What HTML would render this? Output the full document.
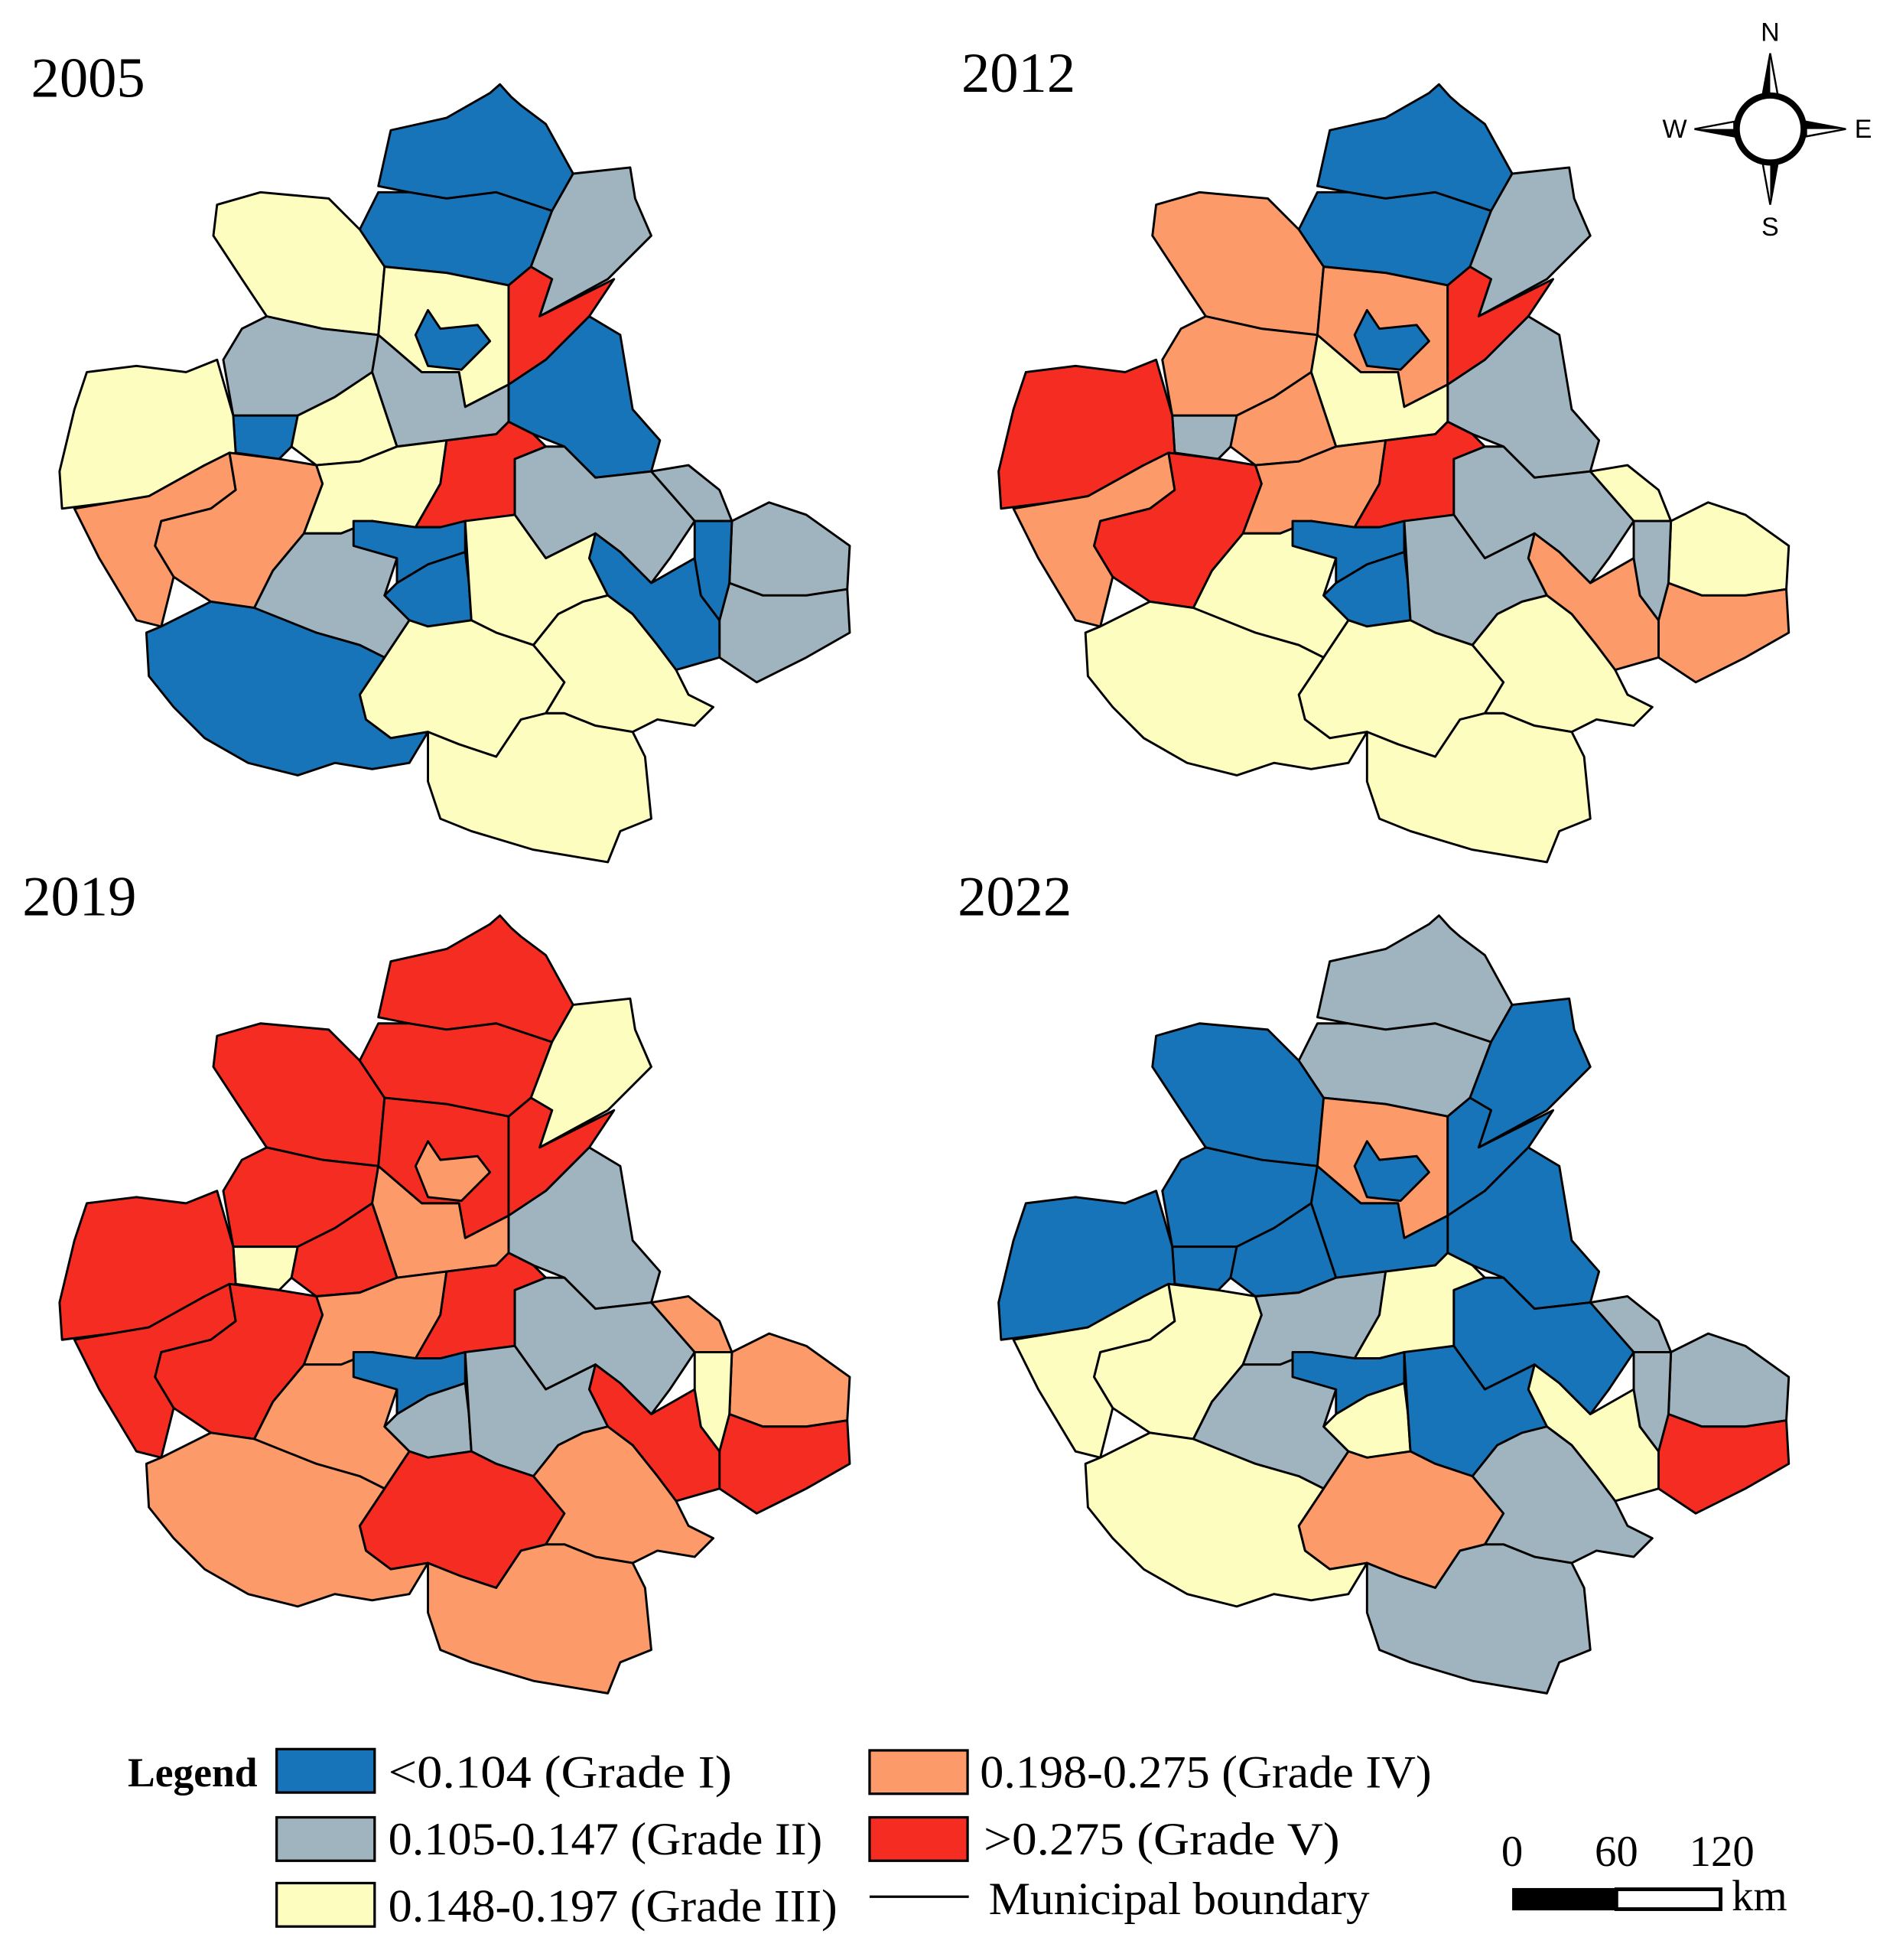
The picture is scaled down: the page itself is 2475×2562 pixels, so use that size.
<!DOCTYPE html>
<html><head><meta charset="utf-8"><style>
html,body{margin:0;padding:0;background:#fff;}
svg{display:block;}
.serif{font-family:"Liberation Serif",serif;}
.sans{font-family:"Liberation Sans",sans-serif;}
</style></head><body>
<svg id="chart" width="2475" height="2562" viewBox="0 0 1526 1580" preserveAspectRatio="none" xmlns="http://www.w3.org/2000/svg">
<g id="maps" class="serif"></g>
<g class="sans">
  <polygon points="1427,43 1433,76 1421,76" fill="#fff" stroke="#000" stroke-width="1.5"/>
  <polygon points="1427,43 1421,76 1427,76" fill="#000"/>
  <polygon points="1427,165 1433,132 1421,132" fill="#fff" stroke="#000" stroke-width="1.5"/>
  <polygon points="1427,165 1433,132 1427,132" fill="#000"/>
  <polygon points="1366,104 1398,98 1398,110" fill="#fff" stroke="#000" stroke-width="1.5"/>
  <polygon points="1366,104 1398,110 1398,104" fill="#000"/>
  <polygon points="1488,104 1456,98 1456,110" fill="#fff" stroke="#000" stroke-width="1.5"/>
  <polygon points="1488,104 1456,98 1456,104" fill="#000"/>
  <circle cx="1427" cy="104" r="27" fill="#fff" stroke="#000" stroke-width="5"/>
  <text x="1427" y="33" font-size="21" text-anchor="middle">N</text>
  <text x="1427" y="190" font-size="21" text-anchor="middle">S</text>
  <text x="1350" y="111" font-size="21" text-anchor="middle">W</text>
  <text x="1502" y="111" font-size="21" text-anchor="middle">E</text>
</g>
<g class="serif">
  <text x="103" y="1440" font-size="33" font-weight="bold">Legend</text>
  <rect x="223" y="1410" width="79" height="35" fill="#1874b8" stroke="#000" stroke-width="2"/>
  <text x="313" y="1441" font-size="37" textLength="277" lengthAdjust="spacingAndGlyphs">&lt;0.104 (Grade I)</text>
  <rect x="223" y="1465" width="79" height="35" fill="#a0b4bf" stroke="#000" stroke-width="2"/>
  <text x="313" y="1495" font-size="37" textLength="350" lengthAdjust="spacingAndGlyphs">0.105-0.147 (Grade II)</text>
  <rect x="223" y="1518" width="79" height="35" fill="#fdfdbf" stroke="#000" stroke-width="2"/>
  <text x="313" y="1549" font-size="37" textLength="362" lengthAdjust="spacingAndGlyphs">0.148-0.197 (Grade III)</text>
  <rect x="701" y="1411" width="79" height="35" fill="#fc9a6a" stroke="#000" stroke-width="2"/>
  <text x="790" y="1441" font-size="37" textLength="364" lengthAdjust="spacingAndGlyphs">0.198-0.275 (Grade IV)</text>
  <rect x="701" y="1465" width="79" height="35" fill="#f52c22" stroke="#000" stroke-width="2"/>
  <text x="793" y="1495" font-size="37" textLength="287" lengthAdjust="spacingAndGlyphs">&gt;0.275 (Grade V)</text>
  <line x1="701" y1="1529" x2="781" y2="1529" stroke="#000" stroke-width="2"/>
  <text x="797" y="1543" font-size="37" textLength="307" lengthAdjust="spacingAndGlyphs">Municipal boundary</text>
</g>
<g class="serif">
  <text x="1219" y="1504" font-size="35" text-anchor="middle">0</text>
  <text x="1303" y="1504" font-size="35" text-anchor="middle">60</text>
  <text x="1388" y="1504" font-size="35" text-anchor="middle">120</text>
  <rect x="1219" y="1522" width="84" height="18" fill="#000"/>
  <rect x="1303" y="1523" width="84" height="16" fill="#fff" stroke="#000" stroke-width="3"/>
  <text x="1396" y="1540" font-size="35">km</text>
</g>
</svg>
<script>
const years = ["2005","2012","2019","2022"];
const gradeColors = ["#1874b8","#a0b4bf","#fdfdbf","#fc9a6a","#f52c22"];
const regionIds = ["n1","n2","ne","nw","cn","city","corr","w","e","c","sw-small","mw","fw","sw1","sw2","cy","cr","ec","e2","fe","fe2","eb","eb2","sc","cs-a","cs-b","ys","sws","se","bsw","s"];
const grades2005 = [1,1,2,3,3,1,5,2,1,2,1,3,3,4,4,3,5,2,2,2,2,1,1,2,1,1,3,3,3,1,3];
const grades2012 = [1,1,2,4,4,1,5,4,2,3,2,4,5,4,5,4,5,2,3,3,4,4,2,3,1,1,2,3,3,3,3];
const grades2019 = [5,5,3,5,5,4,5,5,2,4,3,5,5,5,5,4,5,2,4,4,5,5,3,4,1,2,2,5,4,4,4];
const grades2022 = [2,2,1,1,4,1,1,1,1,1,1,1,1,3,3,2,3,1,2,2,5,3,2,2,1,3,1,4,2,3,2];
const yearGrades = [grades2005, grades2012, grades2019, grades2022];

const shapes = [
 [[305,150],[315,105],[360,95],[395,75],[403,68],[412,78],[420,85],[440,100],[462,140],[445,170],[400,155],[360,160],[330,155]],
 [[305,155],[330,155],[360,160],[400,155],[445,170],[428,215],[410,230],[360,220],[310,215],[290,185]],
 [[445,170],[462,140],[508,135],[512,160],[525,190],[490,225],[435,255],[445,225],[428,215]],
 [[175,165],[210,155],[265,160],[290,185],[310,215],[305,270],[260,265],[215,255],[195,225],[172,190]],
 [[310,215],[360,220],[410,230],[410,310],[375,328],[370,300],[340,300],[305,270]],
 [[335,270],[345,250],[355,265],[385,262],[395,275],[372,298],[345,295]],
 [[410,230],[428,215],[445,225],[435,255],[495,225],[475,255],[440,290],[410,310]],
 [[180,290],[195,265],[215,255],[260,265],[305,270],[300,300],[270,320],[240,335],[188,335]],
 [[440,290],[475,255],[500,270],[510,330],[532,355],[525,380],[480,385],[455,360],[430,350],[410,340],[410,310]],
 [[300,300],[305,270],[340,300],[370,300],[375,328],[410,310],[410,340],[400,350],[360,355],[320,360],[310,330]],
 [[188,335],[240,335],[235,360],[225,370],[190,365]],
 [[240,335],[270,320],[300,300],[310,330],[320,360],[290,372],[255,375],[235,360]],
 [[70,300],[110,295],[150,300],[175,290],[188,335],[190,365],[165,375],[120,400],[90,405],[50,410],[48,380],[60,330]],
 [[60,410],[90,405],[120,400],[165,375],[185,365],[190,395],[170,410],[130,420],[125,440],[140,465],[130,505],[110,500],[95,475],[80,450],[70,430]],
 [[185,365],[225,370],[255,375],[260,390],[245,430],[220,460],[205,490],[170,485],[140,465],[125,440],[130,420],[170,410],[190,395]],
 [[255,375],[290,372],[320,360],[360,355],[355,390],[335,425],[300,420],[275,430],[245,430],[260,390]],
 [[360,355],[400,350],[410,340],[430,350],[440,360],[415,370],[415,415],[380,420],[355,425],[335,425],[355,390]],
 [[415,370],[440,360],[455,360],[480,385],[525,380],[560,420],[540,450],[525,470],[500,445],[480,430],[460,440],[440,450],[415,415]],
 [[525,380],[555,375],[580,395],[590,420],[560,420]],
 [[590,420],[620,405],[650,415],[685,440],[683,475],[650,480],[615,480],[588,470]],
 [[588,470],[615,480],[650,480],[683,475],[685,510],[650,530],[610,550],[580,530],[580,500]],
 [[480,430],[500,445],[525,470],[560,450],[565,480],[580,500],[580,530],[545,540],[530,520],[510,495],[490,480],[475,450]],
 [[560,420],[590,420],[588,470],[580,500],[565,480],[560,450]],
 [[245,430],[275,430],[300,420],[320,450],[310,480],[330,500],[310,530],[290,520],[255,510],[215,495],[205,490],[220,460]],
 [[285,420],[300,420],[335,425],[355,425],[375,420],[375,445],[345,455],[320,470],[320,450],[285,440]],
 [[320,470],[345,455],[375,445],[378,470],[380,500],[345,505],[330,500],[310,480]],
 [[375,420],[415,415],[440,450],[460,440],[480,430],[475,450],[490,480],[470,485],[450,495],[430,520],[400,510],[380,500],[378,470]],
 [[330,500],[345,505],[380,500],[400,510],[430,520],[455,550],[440,575],[420,580],[400,610],[370,600],[345,590],[315,595],[295,580],[290,560],[310,530]],
 [[430,520],[450,495],[470,485],[490,480],[510,495],[530,520],[545,540],[555,560],[575,570],[560,585],[530,580],[510,590],[480,585],[455,575],[440,575],[455,550]],
 [[118,510],[130,505],[170,485],[205,490],[255,510],[290,520],[310,530],[290,560],[295,580],[315,595],[345,590],[330,615],[300,620],[270,615],[240,625],[200,615],[165,595],[140,570],[120,545]],
 [[345,590],[370,600],[400,610],[420,580],[440,575],[455,575],[480,585],[510,590],[520,610],[525,660],[500,670],[490,695],[460,690],[430,685],[380,670],[355,660],[345,630]]
];
const offsets = [[0,0],[757,0],[0,670],[757,670]];
const labelPos = [[25,78],[775,74],[18,738],[772,738]];
const NS = "http://www.w3.org/2000/svg";
const root = document.getElementById("maps");
years.forEach(function(yr, yi){
  const g = document.createElementNS(NS,"g");
  
  
  g.setAttribute("transform","translate("+offsets[yi][0]+","+offsets[yi][1]+")");
  shapes.forEach(function(pts, ri){
    const p = document.createElementNS(NS,"polygon");
    
    
    p.setAttribute("points", pts.map(function(q){return q[0]+","+q[1];}).join(" "));
    p.setAttribute("fill", gradeColors[yearGrades[yi][ri]-1]);
    p.setAttribute("stroke","#000");
    p.setAttribute("stroke-width","1.8");
    p.setAttribute("stroke-linejoin","round");
    g.appendChild(p);
  });
  root.appendChild(g);
  const t = document.createElementNS(NS,"text");
  
  
  t.setAttribute("x", labelPos[yi][0]);
  t.setAttribute("y", labelPos[yi][1]);
  t.setAttribute("font-size","46");
  t.textContent = yr;
  root.appendChild(t);
});
</script>
</body></html>
